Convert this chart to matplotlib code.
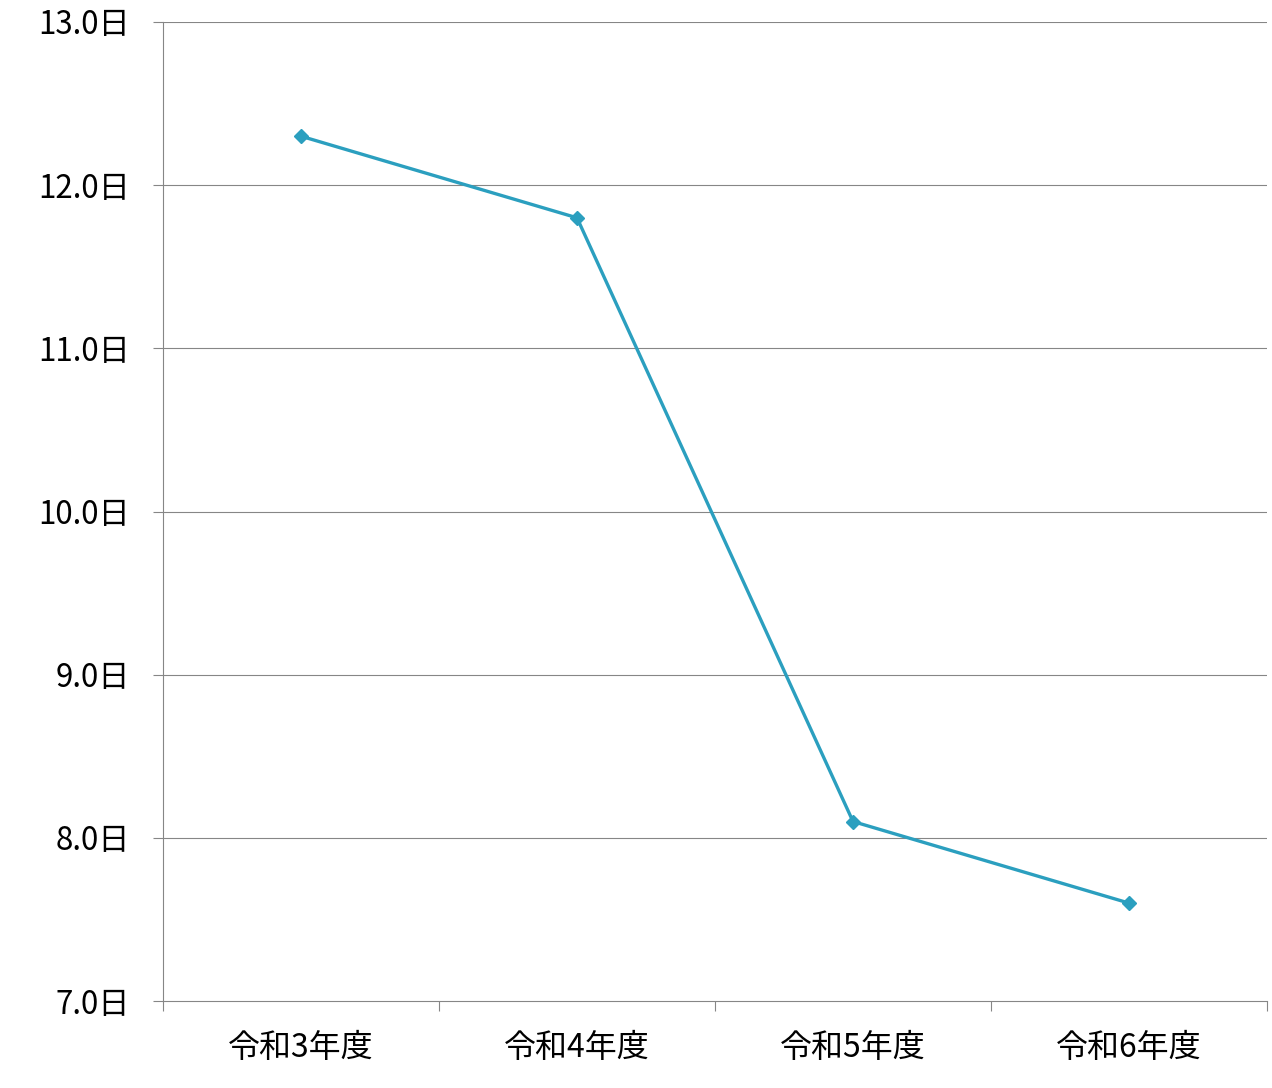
import matplotlib
matplotlib.use("Agg")
import matplotlib.pyplot as plt
import numpy as np

plt.rcParams['font.family'] = ['Noto Sans CJK JP', 'DejaVu Sans']

years = ['令和3年度', '令和4年度', '令和5年度', '令和6年度']
days = [12.3, 11.8, 8.1, 7.6]
yticks = [7.0, 8.0, 9.0, 10.0, 11.0, 12.0, 13.0]

fig = plt.figure(figsize=(12.72, 10.88), dpi=100)
ax = fig.add_axes([163/1272, 1 - 1001/1088, (1267-163)/1272, (1001-22)/1088])

x = np.arange(len(years))
ax.plot(x, days, color='#2B9FBF', linewidth=2.4, marker='D', markersize=7.5,
        zorder=3, clip_on=False)

ax.set_xlim(-0.5, len(years) - 0.5)
ax.set_ylim(7, 13)

grid_c = '#868686'
ax.set_yticks(yticks)
ax.set_yticklabels([f'{v:.1f}日' for v in yticks])
for v in yticks[1:]:
    ax.axhline(v, color=grid_c, linewidth=0.8, zorder=1)

ax.set_xticks(np.arange(len(years) + 1) - 0.5)
ax.set_xticklabels([])
ax.set_xticks(x, minor=True)
ax.set_xticklabels(years, minor=True)

ax.tick_params(axis='x', which='major', length=7.5, width=0.8, color=grid_c)
ax.tick_params(axis='x', which='minor', length=0, pad=22.5, labelsize=23)
ax.tick_params(axis='y', length=7.5, width=0.8, color=grid_c, pad=16, labelsize=22.5)

for s in ['top', 'right']:
    ax.spines[s].set_visible(False)
for s in ['left', 'bottom']:
    ax.spines[s].set_color(grid_c)
    ax.spines[s].set_linewidth(0.8)

fig.savefig('out.png', dpi=100)
